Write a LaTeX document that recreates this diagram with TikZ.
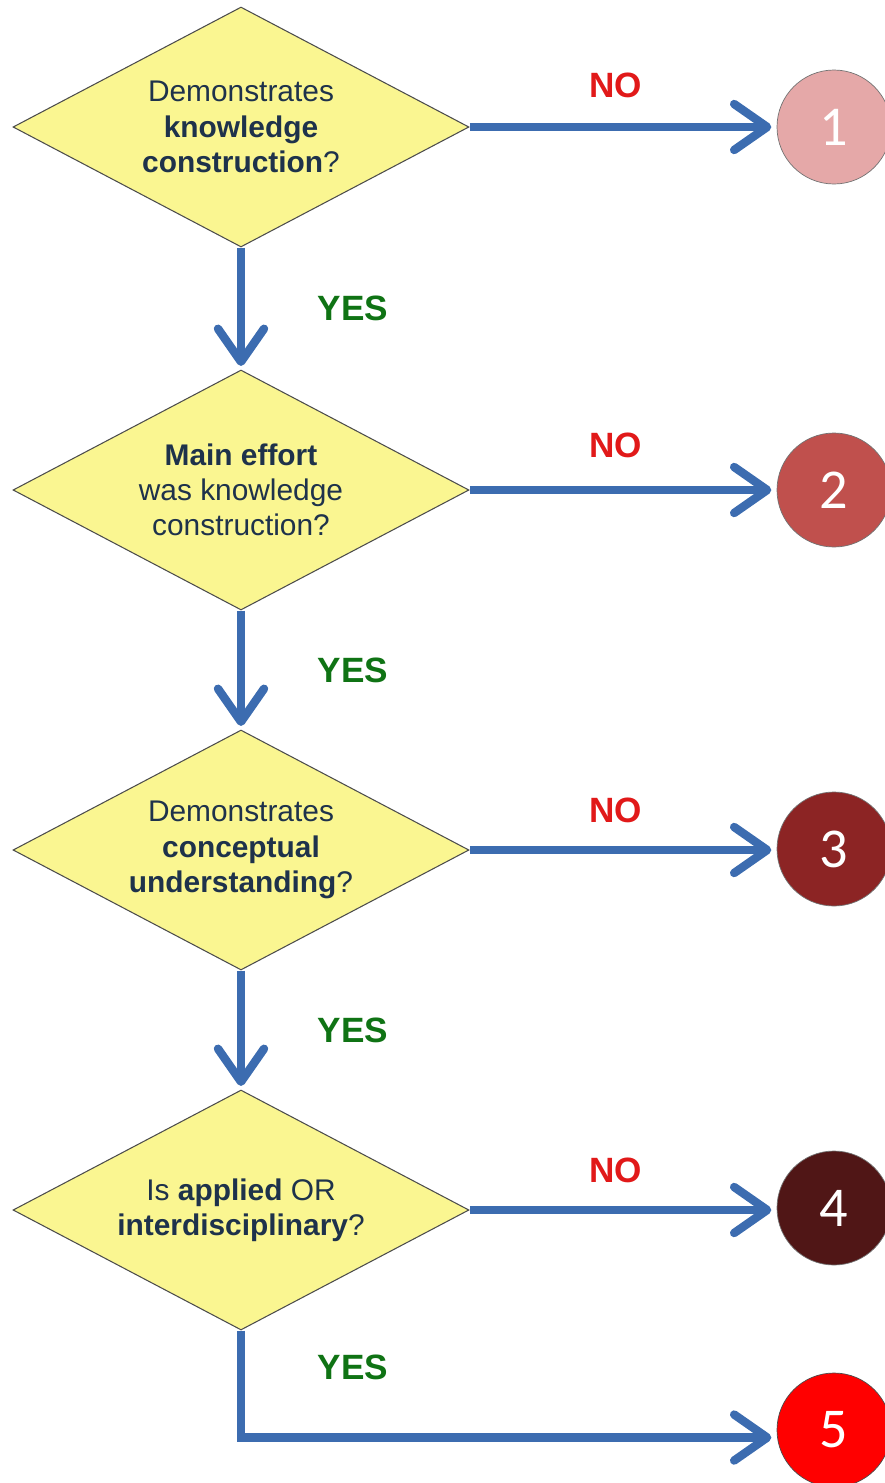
\documentclass[tikz,border=0pt]{standalone}
\usepackage{fontspec}
\setmainfont{Liberation Sans}
\newfontfamily\numfont{Carlito}
\usetikzlibrary{arrows.meta, positioning, calc, shapes.geometric}

\definecolor{qfill}{RGB}{250,246,145}
\definecolor{qtext}{RGB}{30,50,75}
\definecolor{flowblue}{RGB}{60,108,176}
\definecolor{nored}{RGB}{225,25,25}
\definecolor{yesgreen}{RGB}{15,115,20}
\definecolor{lvlone}{RGB}{229,168,168}
\definecolor{lvltwo}{RGB}{192,80,77}
\definecolor{lvlthree}{RGB}{140,36,36}
\definecolor{lvlfour}{RGB}{80,22,22}
\definecolor{lvlfive}{RGB}{255,0,0}

\begin{document}
\begin{tikzpicture}[
    decision/.style={draw=black!70, line width=0.6pt, fill=qfill, diamond, aspect=1.9, inner sep=0pt,
      minimum width=9.12cm, minimum height=4.8cm, align=center, text=qtext,
      font=\fontsize{17}{20}\selectfont},
    outcome/.style={circle, draw=black!55, minimum size=2.28cm, inner sep=0pt,
      text=white, font=\numfont\fontsize{32}{32}\selectfont},
    flow/.style={draw=flowblue, line width=4.8pt,
      -{Straight Barb[length=0.66cm, width=0.92cm, line cap=round, line join=round]}},
    nolabel/.style={text=nored, font=\fontsize{20}{20}\selectfont\bfseries},
    yeslabel/.style={text=yesgreen, font=\fontsize{20}{20}\selectfont\bfseries}
  ]
  \useasboundingbox (0,0) rectangle (17.7,-29.66);

  % the four questions
  \node[decision] (q1) at (4.82,-2.54) {Demonstrates\\\textbf{knowledge}\\\textbf{construction}?};
  \node[decision] (q2) at (4.82,-9.8) {\textbf{Main effort}\\was knowledge\\construction?};
  \node[decision] (q3) at (4.82,-17.0) {Demonstrates\\\textbf{conceptual}\\\textbf{understanding}?};
  \node[decision] (q4) at (4.82,-24.2) {Is \textbf{applied} OR\\\textbf{interdisciplinary}?};

  % levels on the right
  \node[outcome, fill=lvlone] (l1) at (16.68,-2.54) {1};
  \node[outcome, fill=lvltwo] (l2) at (16.68,-9.8) {2};
  \node[outcome, fill=lvlthree] (l3) at (16.68,-16.98) {3};
  \node[outcome, fill=lvlfour] (l4) at (16.68,-24.16) {4};
  \node[outcome, fill=lvlfive, draw=black!70] (l5) at (16.68,-28.6) {5};

  % NO branches
  \draw[flow, shorten >=3pt] (q1.east) -- (q1.east -| l1.west) node[nolabel, midway, yshift=0.84cm, xshift=-0.15cm] (n1) {NO};
  \draw[flow, shorten >=3pt] (q2.east) -- (q2.east -| l2.west) node[nolabel, midway, yshift=0.9cm, xshift=-0.15cm] (n2) {NO};
  \draw[flow, shorten >=3pt] (q3.east) -- (q3.east -| l3.west) node[nolabel, midway, yshift=0.8cm, xshift=-0.15cm] (n3) {NO};
  \draw[flow, shorten >=3pt] (q4.east) -- (q4.east -| l4.west) node[nolabel, midway, yshift=0.8cm, xshift=-0.15cm] (n4) {NO};

  % YES branches
  \draw[flow, shorten >=2pt] (q1.south) -- (q2.north) node[yeslabel, midway, xshift=2.24cm] (y1) {YES};
  \draw[flow, shorten >=2pt] (q2.south) -- (q3.north) node[yeslabel, midway, xshift=2.24cm] (y2) {YES};
  \draw[flow, shorten >=2pt] (q3.south) -- (q4.north) node[yeslabel, midway, xshift=2.24cm] (y3) {YES};
  \coordinate (turn) at ($(q4.south)+(0,-2.14)$);
  \draw[flow, shorten >=3pt] (q4.south) -- (turn) -- (turn -| l5.west) node[yeslabel, pos=0, xshift=2.24cm, yshift=1.4cm] (y4) {YES};
\end{tikzpicture}
\end{document}
